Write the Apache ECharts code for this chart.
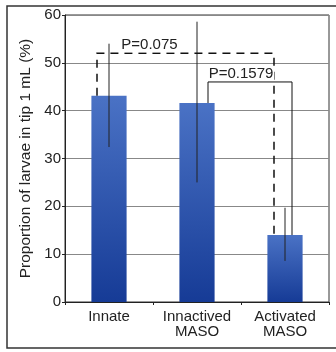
<!DOCTYPE html>
<html>
<head>
<meta charset="utf-8">
<script src="https://cdn.jsdelivr.net/npm/echarts@6/dist/echarts.min.js"></script>
<style>
  html, body { margin: 0; padding: 0; background: #fff; }
  #chart { width: 336px; height: 352px; }
</style>
</head>
<body>
<div id="chart"></div>
<script>
// data
var categories = ['Innate', 'Innactived\nMASO', 'Activated\nMASO'];
var means = [43.1, 41.6, 14.0];
var errLow = [32.4, 25.0, 8.6];
var errHigh = [54.0, 58.6, 19.7];
var yTicks = [0, 60, 10];  // min, max, step
// significance brackets: [from index, to index, level, label]
var brackets = [
    [0, 2, 52, 'P=0.075'],
    [1, 2, 46, 'P=0.1579']
];

var chart = echarts.init(document.getElementById('chart'));

var font = 'Liberation Sans, Arial, sans-serif';

var barColor = new echarts.graphic.LinearGradient(0, 0, 0, 1, [
    { offset: 0, color: '#4a72c5' },
    { offset: 1, color: '#163b96' }
]);

// pixel offsets of bracket legs from category centres
var legOffsets = [[-12, -11], [11, 7]];

var option = {
    animation: false,
    grid: {
        left: 65,
        right: 7,
        top: 15,
        bottom: 50,
        show: true,
        borderColor: '#333',
        borderWidth: 1
    },
    xAxis: {
        type: 'category',
        data: categories,
        axisLine: { lineStyle: { color: '#222' } },
        axisTick: { show: true, length: 3, lineStyle: { color: '#222' } },
        axisLabel: {
            interval: 0,
            hideOverlap: false,
            color: '#222',
            fontSize: 15,
            fontFamily: font,
            lineHeight: 15,
            margin: 7
        }
    },
    yAxis: {
        type: 'value',
        min: yTicks[0],
        max: yTicks[1],
        interval: yTicks[2],
        name: 'Proportion of larvae in tip 1 mL (%)',
        nameLocation: 'middle',
        nameGap: 30,
        nameTextStyle: { color: '#222', fontSize: 15.5, fontFamily: font },
        axisLine: { show: true, lineStyle: { color: '#222' } },
        axisTick: { show: true, length: 3, lineStyle: { color: '#222' } },
        axisLabel: { color: '#222', fontSize: 15, fontFamily: font, margin: 4 },
        splitLine: { lineStyle: { color: '#888', width: 1 } }
    },
    series: [
        {
            type: 'bar',
            data: means,
            barWidth: '40%',
            itemStyle: { color: barColor }
        },
        {
            type: 'custom',
            data: categories.map(function (c, i) { return [i, errLow[i], errHigh[i]]; }),
            renderItem: function (params, api) {
                var lo = api.coord([api.value(0), api.value(1)]);
                var hi = api.coord([api.value(0), api.value(2)]);
                return {
                    type: 'line',
                    shape: { x1: lo[0], y1: lo[1], x2: hi[0], y2: hi[1] },
                    style: { stroke: '#222', lineWidth: 1 }
                };
            },
            z: 5
        },
        {
            type: 'custom',
            data: brackets.map(function (b) { return [b[0], b[1], b[2]]; }),
            renderItem: function (params, api) {
                var i = params.dataIndex;
                var a = api.value(0), b = api.value(1), lvl = api.value(2);
                var off = legOffsets[i];
                var pa = api.coord([a, means[a]]);
                var pb = api.coord([b, means[b]]);
                var top = api.coord([a, lvl])[1];
                var x1 = pa[0] + off[0], x2 = pb[0] + off[1];
                var dashed = i === 0;
                return {
                    type: 'group',
                    children: [
                        {
                            type: 'polyline',
                            shape: { points: [[x1, pa[1]], [x1, top], [x2, top], [x2, pb[1]]] },
                            style: {
                                stroke: '#111',
                                fill: null,
                                lineWidth: dashed ? 1.5 : 1,
                                lineDash: dashed ? [8, 6] : null
                            }
                        },
                        {
                            type: 'text',
                            style: {
                                text: brackets[i][3],
                                x: dashed ? (x1 + x2) / 2 - 36 : x1 + 33,
                                y: top - 1,
                                align: 'center',
                                verticalAlign: 'bottom',
                                fill: '#222',
                                font: '15px ' + font,
                                backgroundColor: '#fff',
                                padding: [0, 1]
                            }
                        }
                    ]
                };
            },
            z: 6
        }
    ],
    graphic: [
        {
            type: 'rect',
            shape: { x: 7, y: 6, width: 336, height: 342 },
            style: { fill: null, stroke: '#333', lineWidth: 1.5 },
            silent: true
        }
    ]
};

chart.setOption(option);
</script>
</body>
</html>
